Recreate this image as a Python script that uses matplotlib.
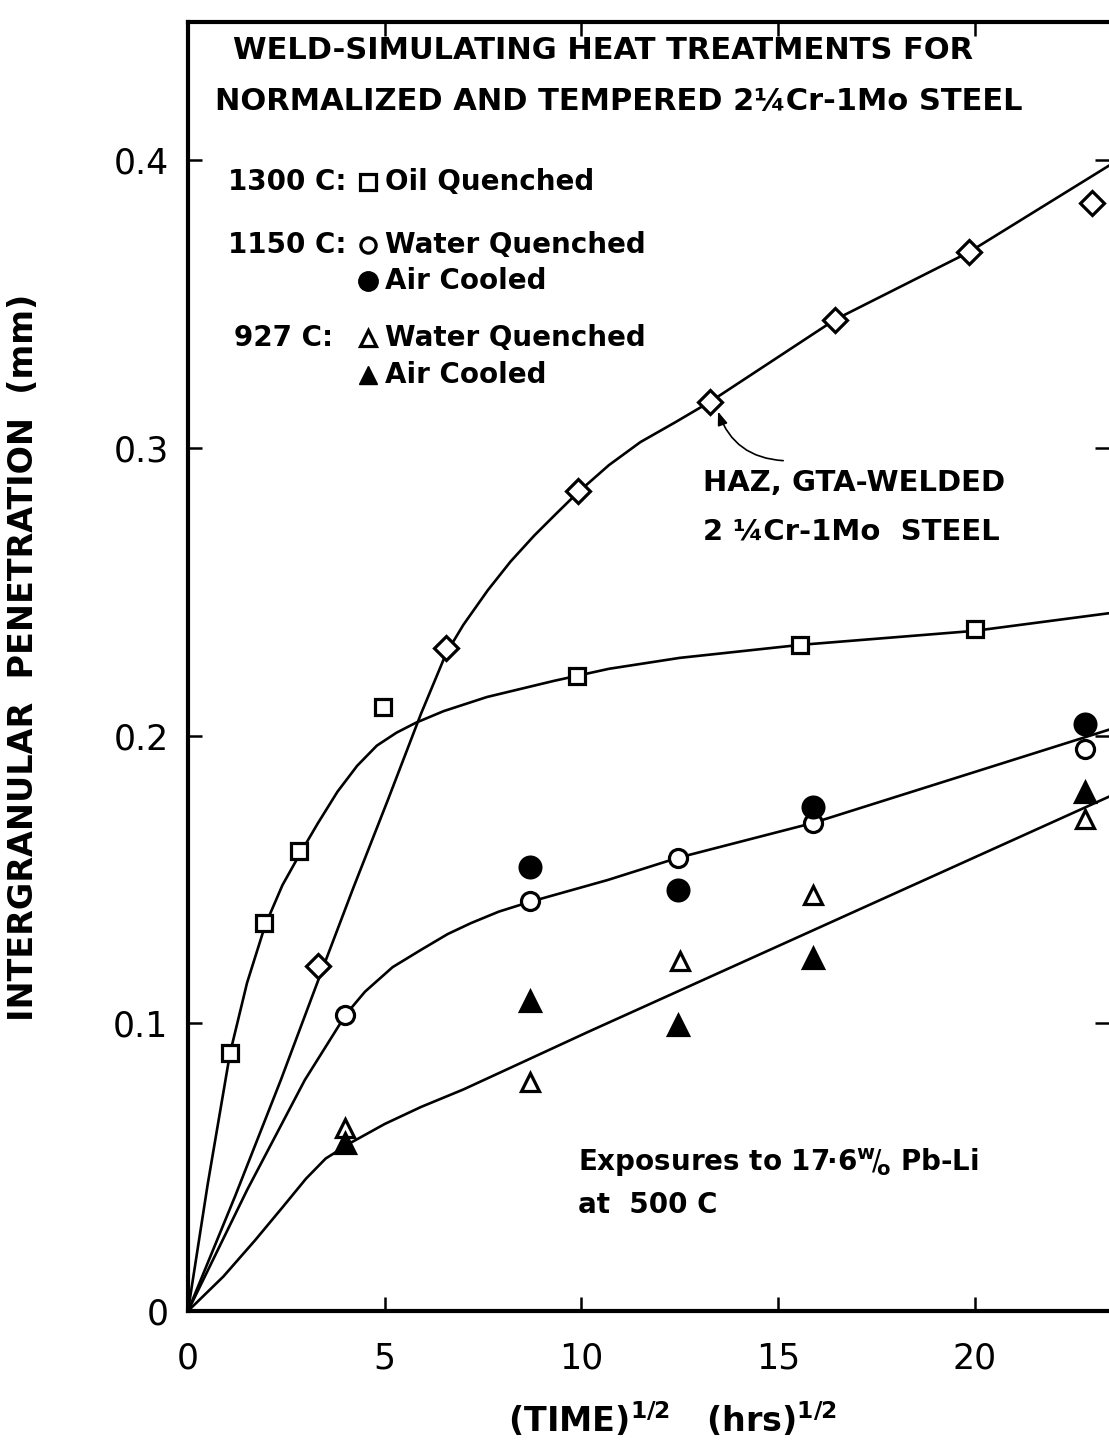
import matplotlib
matplotlib.use("Agg")
import matplotlib.pyplot as plt

plt.rcParams['font.family'] = ['DejaVu Sans']
plt.rcParams['mathtext.fontset'] = 'dejavusans'

# ---------------- data ----------------
# x = (time)^1/2 (hrs^1/2), y = intergranular penetration (mm)
oq1300_x = [1.07, 1.93, 2.82, 4.96, 9.89, 15.55, 20.0]
oq1300_y = [0.0897, 0.135, 0.160, 0.210, 0.2207, 0.2315, 0.237]

haz_x = [3.30, 6.56, 9.91, 13.27, 16.44, 19.85, 22.97]
haz_y = [0.120, 0.2305, 0.285, 0.316, 0.3445, 0.368, 0.385]

wq1150_x = [3.99, 8.69, 12.45, 15.88, 22.8]
wq1150_y = [0.103, 0.1425, 0.1575, 0.1696, 0.1953]
ac1150_x = [8.69, 12.45, 15.88, 22.8]
ac1150_y = [0.1543, 0.1463, 0.175, 0.204]

wq927_x = [3.99, 8.69, 12.50, 15.88, 22.8]
wq927_y = [0.0636, 0.0796, 0.1217, 0.1446, 0.171]
ac927_x = [3.99, 8.69, 12.45, 15.88, 22.8]
ac927_y = [0.0584, 0.1078, 0.0994, 0.1227, 0.1804]

# hand-drawn fitted curves
oq_fit_x = [0, 0.5, 1.07, 1.5, 1.96, 2.4, 2.85, 3.3, 3.8, 4.3, 4.8, 5.3, 5.8, 6.5, 7.6, 9.3, 10.7, 12.5, 15.55, 20.0, 23.4]
oq_fit_y = [0, 0.044, 0.0897, 0.114, 0.134, 0.148, 0.159, 0.1695, 0.1805, 0.1895, 0.1965, 0.201, 0.2045, 0.2085, 0.2134, 0.219, 0.2232, 0.227, 0.2315, 0.2364, 0.2425]

haz_fit_x = [0, 1.2, 2.36, 3.38, 4.2, 5.08, 5.92, 6.56, 7.0, 7.62, 8.2, 8.8, 9.35, 9.91, 10.7, 11.5, 12.4, 13.27, 16.44, 19.85, 23.4]
haz_fit_y = [0, 0.040, 0.0803, 0.1175, 0.147, 0.1776, 0.2075, 0.2285, 0.2385, 0.2505, 0.2605, 0.2695, 0.277, 0.2845, 0.294, 0.302, 0.309, 0.316, 0.3445, 0.368, 0.398]

c1150_fit_x = [0, 1.5, 2.97, 4.02, 4.5, 5.2, 5.92, 6.6, 7.19, 7.9, 8.69, 10.67, 12.45, 15.88, 23.4]
c1150_fit_y = [0, 0.042, 0.0803, 0.1032, 0.111, 0.1195, 0.1255, 0.131, 0.1348, 0.1388, 0.1422, 0.1498, 0.1575, 0.1696, 0.202]

c927_fit_x = [0, 0.9, 1.7, 2.4, 3.0, 3.5, 4.14, 5.0, 5.92, 7.0, 8.46, 10.17, 23.4]
c927_fit_y = [0, 0.012, 0.0245, 0.036, 0.046, 0.053, 0.0585, 0.065, 0.0709, 0.077, 0.0862, 0.097, 0.1787]

x_ticks = [0, 5, 10, 15, 20]
x_ticklabels = ["0", "5", "10", "15", "20"]
y_ticks = [0, 0.1, 0.2, 0.3, 0.4]
y_ticklabels = ["0", "0.1", "0.2", "0.3", "0.4"]

# ---------------- figure ----------------
fig = plt.figure(figsize=(11.09, 14.45), dpi=100)
ax = fig.add_axes([188 / 1109, 1 - 1311 / 1445, (1109 - 188) / 1109, (1311 - 22) / 1445])
ax.set_xlim(0, 23.41)
ax.set_ylim(0, 0.448)

lw = 1.9
ax.plot(oq_fit_x, oq_fit_y, color='black', lw=lw, zorder=2)
ax.plot(haz_fit_x, haz_fit_y, color='black', lw=lw, zorder=2)
ax.plot(c1150_fit_x, c1150_fit_y, color='black', lw=lw, zorder=2)
ax.plot(c927_fit_x, c927_fit_y, color='black', lw=lw, zorder=2)

mk = dict(linestyle='none', markeredgecolor='black', markeredgewidth=2.3, zorder=3)
ax.plot(oq1300_x, oq1300_y, marker='s', markersize=12, markerfacecolor='white', **mk)
ax.plot(haz_x, haz_y, marker='D', markersize=12, markerfacecolor='white', **mk)
ax.plot(wq1150_x, wq1150_y, marker='o', markersize=13, markerfacecolor='white', **mk)
ax.plot(ac1150_x, ac1150_y, marker='o', markersize=15, markerfacecolor='black', **mk)
ax.plot(wq927_x, wq927_y, marker='^', markersize=13, markerfacecolor='white', **mk)
ax.plot(ac927_x, ac927_y, marker='^', markersize=14, markerfacecolor='black', **mk)

# axes styling
for side in ['left', 'bottom', 'top']:
    ax.spines[side].set_linewidth(3.0)
ax.spines['right'].set_visible(False)
ax.set_xticks(x_ticks)
ax.set_xticklabels(x_ticklabels)
ax.set_yticks(y_ticks)
ax.set_yticklabels(y_ticklabels)
ax.tick_params(axis='x', direction='in', length=10, width=1.8, top=True, labelsize=25, pad=22)
ax.tick_params(axis='y', direction='in', length=10, width=1.8, right=True, labelsize=25, pad=14)

ax.set_ylabel("INTERGRANULAR  PENETRATION  (mm)", fontsize=24, fontweight='bold')
ax.yaxis.set_label_coords(-0.161, 0.507)
ax.set_xlabel(r"(TIME)$^{\mathbf{1/2}}$   (hrs)$^{\mathbf{1/2}}$", fontsize=24, fontweight='bold')
ax.xaxis.set_label_coords(0.526, -0.069)

T = ax.transAxes
ax.text(0.451, 0.978, "WELD-SIMULATING HEAT TREATMENTS FOR", transform=T,
        ha='center', va='center', fontsize=22, fontweight='bold')
ax.text(0.468, 0.938, "NORMALIZED AND TEMPERED 2¼Cr-1Mo STEEL", transform=T,
        ha='center', va='center', fontsize=22, fontweight='bold')

# legend block
fs = 20
rows = [0.876, 0.827, 0.799, 0.755, 0.726]
mx = 0.195
tx = 0.214
ax.text(0.043, rows[0], "1300 C:", transform=T, ha='left', va='center', fontsize=fs, fontweight='bold')
ax.plot([mx], [rows[0]], transform=T, marker='s', markersize=11, markerfacecolor='white',
        markeredgecolor='black', markeredgewidth=2.3, clip_on=False)
ax.text(tx, rows[0], "Oil Quenched", transform=T, ha='left', va='center', fontsize=fs, fontweight='bold')

ax.text(0.043, rows[1], "1150 C:", transform=T, ha='left', va='center', fontsize=fs, fontweight='bold')
ax.plot([mx], [rows[1]], transform=T, marker='o', markersize=11, markerfacecolor='white',
        markeredgecolor='black', markeredgewidth=2.3, clip_on=False)
ax.text(tx, rows[1], "Water Quenched", transform=T, ha='left', va='center', fontsize=fs, fontweight='bold')
ax.plot([mx], [rows[2]], transform=T, marker='o', markersize=14, markerfacecolor='black',
        markeredgecolor='black', clip_on=False)
ax.text(tx, rows[2], "Air Cooled", transform=T, ha='left', va='center', fontsize=fs, fontweight='bold')

ax.text(0.050, rows[3], "927 C:", transform=T, ha='left', va='center', fontsize=fs, fontweight='bold')
ax.plot([mx], [rows[3]], transform=T, marker='^', markersize=11, markerfacecolor='white',
        markeredgecolor='black', markeredgewidth=2.3, clip_on=False)
ax.text(tx, rows[3], "Water Quenched", transform=T, ha='left', va='center', fontsize=fs, fontweight='bold')
ax.plot([mx], [rows[4]], transform=T, marker='^', markersize=13, markerfacecolor='black',
        markeredgecolor='black', clip_on=False)
ax.text(tx, rows[4], "Air Cooled", transform=T, ha='left', va='center', fontsize=fs, fontweight='bold')

# HAZ annotation
ax.text(0.559, 0.642, "HAZ, GTA-WELDED", transform=T, ha='left', va='center', fontsize=21, fontweight='bold')
ax.text(0.559, 0.605, "2 ¼Cr-1Mo  STEEL", transform=T, ha='left', va='center', fontsize=21, fontweight='bold')
ax.annotate("", xy=(13.45, 0.3135), xytext=(15.2, 0.2955),
            arrowprops=dict(arrowstyle='-|>,head_length=0.8,head_width=0.3', color='black',
                            lw=1.2, connectionstyle='arc3,rad=-0.35'))

ax.text(0.4235, 0.115, r"Exposures to 17·6$^{\mathbf{w}}\!/\!_{\mathbf{o}}$ Pb-Li", transform=T,
        ha='left', va='center', fontsize=20, fontweight='bold')
ax.text(0.4235, 0.082, "at  500 C", transform=T, ha='left', va='center', fontsize=20, fontweight='bold')

fig.savefig("out.png", dpi=100, facecolor='white')
